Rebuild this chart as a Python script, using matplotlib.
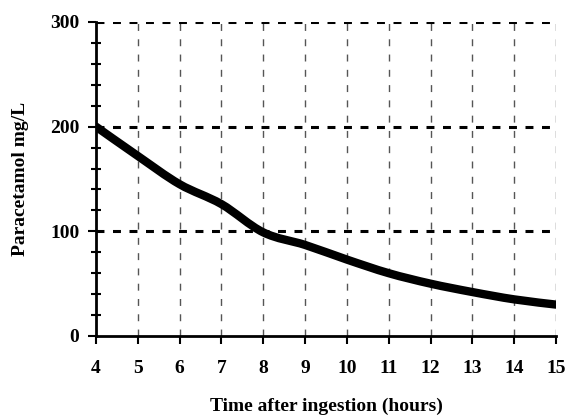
import matplotlib
matplotlib.use("Agg")
import matplotlib.pyplot as plt
from matplotlib.ticker import MultipleLocator
from matplotlib.path import Path
from matplotlib.patches import PathPatch

hours = [4, 5, 6, 7, 8, 9, 10, 11, 12, 13, 14, 15]
conc = [200, 172, 145, 126, 99, 87, 73, 60, 50, 42, 35, 30]
x_ticks = list(range(4, 16))
y_ticks = [0, 100, 200, 300]

plt.rcParams['font.family'] = ['Liberation Serif', 'DejaVu Serif']
plt.rcParams['font.weight'] = 'bold'

fig = plt.figure(figsize=(5.69, 4.16), dpi=100)
ax = fig.add_axes([96/569, 1-336/416, 460/569, 314/416])

ax.set_xlim(4, 15)
ax.set_ylim(0, 300)

# grid lines
for xv in x_ticks[1:]:
    ax.axvline(xv, color='#555555', lw=1.0, ls=(0, (5, 6)), zorder=1)
for yv in y_ticks[1:]:
    ax.axhline(yv, color='black', lw=2.2, ls=(0, (2.6, 2.8)), zorder=1)

# smoothed line (Catmull-Rom rendered as Bezier segments through the data points)
verts = [(hours[0], conc[0])]
codes = [Path.MOVETO]
n = len(hours)
for i in range(n - 1):
    p0 = (hours[max(i - 1, 0)], conc[max(i - 1, 0)])
    p1 = (hours[i], conc[i])
    p2 = (hours[i + 1], conc[i + 1])
    p3 = (hours[min(i + 2, n - 1)], conc[min(i + 2, n - 1)])
    c1 = (p1[0] + (p2[0] - p0[0]) / 6, p1[1] + (p2[1] - p0[1]) / 6)
    c2 = (p2[0] - (p3[0] - p1[0]) / 6, p2[1] - (p3[1] - p1[1]) / 6)
    verts += [c1, c2, p2]
    codes += [Path.CURVE4] * 3
patch = PathPatch(Path(verts, codes), facecolor='none', edgecolor='black',
                  lw=6, capstyle='round', joinstyle='round', zorder=3)
ax.add_patch(patch)

for s in ['top', 'right']:
    ax.spines[s].set_visible(False)
for s in ['left', 'bottom']:
    ax.spines[s].set_linewidth(2)

ax.set_xticks(x_ticks)
ax.set_yticks(y_ticks)
ax.yaxis.set_minor_locator(MultipleLocator(20))
ax.tick_params(axis='x', direction='out', length=6, width=1.5, pad=11, labelsize=14)
ax.tick_params(axis='y', which='major', direction='out', length=6, width=1.5, pad=6, labelsize=14)
ax.tick_params(axis='y', which='minor', direction='inout', length=7, width=1.5)

ax.set_xlabel('Time after ingestion (hours)', fontsize=14, fontweight='bold', labelpad=15)
ax.set_ylabel('Paracetamol mg/L', fontsize=14, fontweight='bold', labelpad=15)

fig.savefig('out.png', dpi=100)
